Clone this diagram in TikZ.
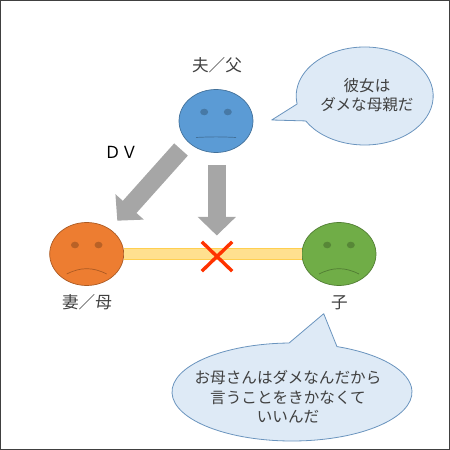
\documentclass[tikz,border=0pt]{standalone}
\usepackage{fontspec}
\setmainfont{Noto Sans CJK JP}
\usetikzlibrary{arrows.meta,shapes.geometric,shapes.misc}
\definecolor{facefillA}{HTML}{5B9BD5}
\definecolor{facefillB}{HTML}{ED7D31}
\definecolor{facefillC}{HTML}{70AD47}
\definecolor{bubblefill}{HTML}{DEEAF6}
\definecolor{bubbleedge}{HTML}{6A94BE}
\definecolor{inktext}{HTML}{404040}
\definecolor{bandfill}{HTML}{FFE08F}
\definecolor{bandedge}{HTML}{FFCF50}
\definecolor{crossred}{HTML}{FF3300}

\begin{document}
\begin{tikzpicture}[
  x=1pt, y=1pt,
  font=\fontsize{15.6}{19.5}\selectfont,
  face/.style={ellipse, draw=#1!72!black, fill=#1, line width=.7pt, inner sep=0pt,
    minimum width=74pt, minimum height=63pt},
  eye/.style={ellipse, fill=#1!78!black, inner sep=0pt, minimum width=8pt, minimum height=6.6pt},
  mouth/.style={#1!72!black, line width=.7pt},
  bubble/.style={draw=bubbleedge, fill=bubblefill, line width=.8pt, line join=round},
  label/.style={text=inktext, align=center, inner sep=0pt},
  biglabel/.style={label, font=\fontsize{16.6}{20}\selectfont},
  blockarrow/.style={draw=black!35, line width=18.3pt, -{Triangle[length=18.5pt,width=37pt]}},
  band/.style={draw=bandedge, line width=1pt, double=bandfill, double distance=9.2pt}
]
\useasboundingbox (0,0) rectangle (450,450);
\draw[inktext, line width=1.4pt] (.7,.7) rectangle (449.2,449.3);

% faces
\foreach \name/\x/\y/\col/\my/\bend in {husband/216/329/facefillA/-16.5/3,
    wife/86.7/196/facefillB/-20/27, child/339/196/facefillC/-20/27} {
  \node[face=\col] (\name) at (\x,\y) {};
  \node[eye=\col] (\name-eyeL) at ([shift={(-11.8,9)}]\name.center) {};
  \node[eye=\col] (\name-eyeR) at ([shift={(11.8,9)}]\name.center) {};
  \draw[mouth=\col] ([shift={(-20,\my)}]\name.center) to[bend left=\bend] ([shift={(20,\my)}]\name.center);
}

\node[biglabel] (husband-lbl) at (217,384.5) {夫／父};
\node[biglabel] (wife-lbl) at (87,147.5) {妻／母};
\node[biglabel] (child-lbl) at (339.5,147.5) {子};
\node[biglabel, text=black] (dv-lbl) at (121,297.5) {ＤＶ};

% line between wife and child
\draw[band] (wife) -- (child);
\node[cross out, draw=crossred, line width=3.4pt, inner sep=0pt,
  minimum width=27pt, minimum height=26pt] (broken) at (217,193.5) {};

% block arrows
\coordinate (hitA) at (181,300.5);
\coordinate (hitAend) at (117.3,229.3);
\coordinate (hitB) at (216.8,285);
\coordinate (hitBend) at (216.8,214.5);
\draw[blockarrow] (hitA) -- (hitAend);
\draw[blockarrow] (hitB) -- (hitBend);

% speech bubbles
\draw[bubble] (364.7,354) ++(210.6:68.5 and 49) arc[start angle=210.6, end angle=549.4, x radius=68.5, y radius=49]
  -- (271.7,330) -- cycle;
\node[label] (husband-says) at (367,355) {彼女は\\ダメな母親だ};

\draw[bubble] (292,58) ++(91.4:120 and 49) arc[start angle=91.4, end angle=428, x radius=120, y radius=49]
  -- (323.7,136.3) -- cycle;
\node[label] (child-says) at (288,53) {お母さんはダメなんだから\\言うことをきかなくて\\いいんだ};
\end{tikzpicture}
\end{document}
